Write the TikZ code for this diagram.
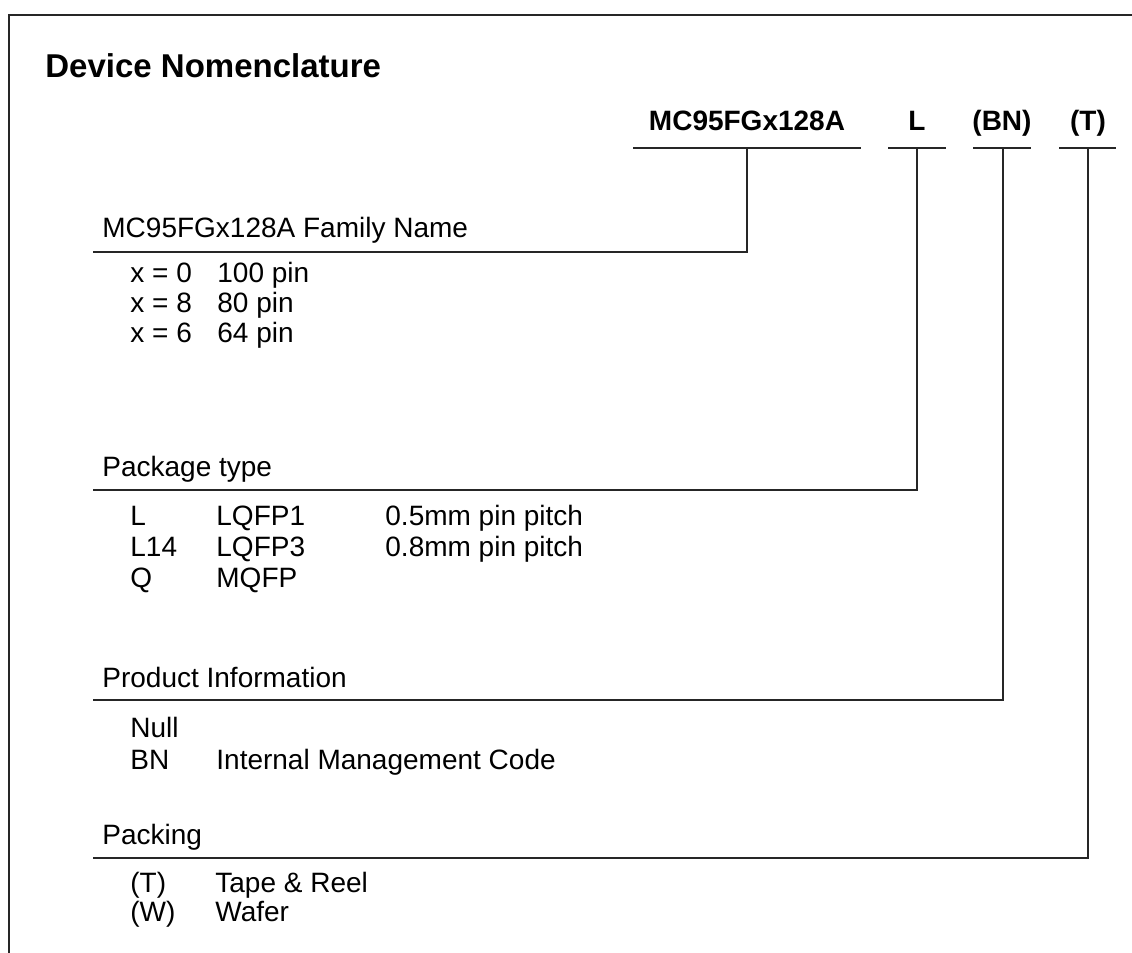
\documentclass[tikz,border=0pt]{standalone}
\usepackage{fontspec}
\setmainfont{Liberation Sans}
\begin{document}
\begin{tikzpicture}[x=0.5pt,y=-0.5pt,
  txt/.style={anchor=base west,inner sep=0pt,font=\fontsize{14pt}{16pt}\selectfont},
  pn/.style={anchor=base,inner sep=0pt,font=\fontsize{14pt}{16pt}\selectfont\bfseries},
  ttl/.style={anchor=base west,inner sep=0pt,font=\fontsize{16.5pt}{19pt}\selectfont\bfseries},
  ln/.style={line width=0.65pt,draw=black!85}]
\useasboundingbox (0,0) rectangle (1132,953);
% frame
\draw[ln] (9,953) -- (9,15) -- (1132,15);
% title
\node[ttl] (title) at (45,77) {Device Nomenclature};
% part number fields
\node[pn] (pmc) at (747,130) {MC95FGx128A};
\node[pn] (pl)  at (917,130) {L};
\node[pn] (pbn) at (1002,130) {(BN)};
\node[pn] (pt)  at (1088,130) {(T)};
% underlines
\coordinate (umc1) at (633,148); \coordinate (umc2) at (861,148); \coordinate (cmc) at (747,148);
\coordinate (ul1) at (888,148);  \coordinate (ul2) at (946,148);  \coordinate (cl) at (917,148);
\coordinate (ubn1) at (973,148); \coordinate (ubn2) at (1031,148); \coordinate (cbn) at (1003,148);
\coordinate (ut1) at (1059,148); \coordinate (ut2) at (1116,148); \coordinate (ct) at (1088,148);
\draw[ln] (umc1) -- (umc2);
\draw[ln] (ul1) -- (ul2);
\draw[ln] (ubn1) -- (ubn2);
\draw[ln] (ut1) -- (ut2);
% section ends
\coordinate (efam) at (93,252);
\coordinate (epkg) at (93,490);
\coordinate (eprd) at (93,700);
\coordinate (epck) at (93,858);
\draw[ln] (cmc) |- (efam);
\draw[ln] (cl) |- (epkg);
\draw[ln] (cbn) |- (eprd);
\draw[ln] (ct) |- (epck);
% Family
\node[txt] (hfam) at (102,237) {MC95FGx128A Family Name};
\node[txt] (f1a) at (130,282) {x = 0};
\node[txt] (f1b) at (217,282) {100 pin};
\node[txt] (f2a) at (130,312) {x = 8};
\node[txt] (f2b) at (217,312) {80 pin};
\node[txt] (f3a) at (130,342) {x = 6};
\node[txt] (f3b) at (217,342) {64 pin};
% Package
\node[txt] (hpkg) at (102,476) {Package type};
\node[txt] (k1a) at (130,525) {L};
\node[txt] (k1b) at (216,525) {LQFP1};
\node[txt] (k1c) at (385,525) {0.5mm pin pitch};
\node[txt] (k2a) at (130,556) {L14};
\node[txt] (k2b) at (216,556) {LQFP3};
\node[txt] (k2c) at (385,556) {0.8mm pin pitch};
\node[txt] (k3a) at (130,587) {Q};
\node[txt] (k3b) at (216,587) {MQFP};
% Product
\node[txt] (hprd) at (102,687) {Product Information};
\node[txt] (r1a) at (130,737) {Null};
\node[txt] (r2a) at (130,769) {BN};
\node[txt] (r2b) at (216,769) {Internal Management Code};
% Packing
\node[txt] (hpck) at (102,844) {Packing};
\node[txt] (p1a) at (130,892) {(T)};
\node[txt] (p1b) at (215,892) {Tape \& Reel};
\node[txt] (p2a) at (130,921) {(W)};
\node[txt] (p2b) at (215,921) {Wafer};
\end{tikzpicture}
\end{document}
